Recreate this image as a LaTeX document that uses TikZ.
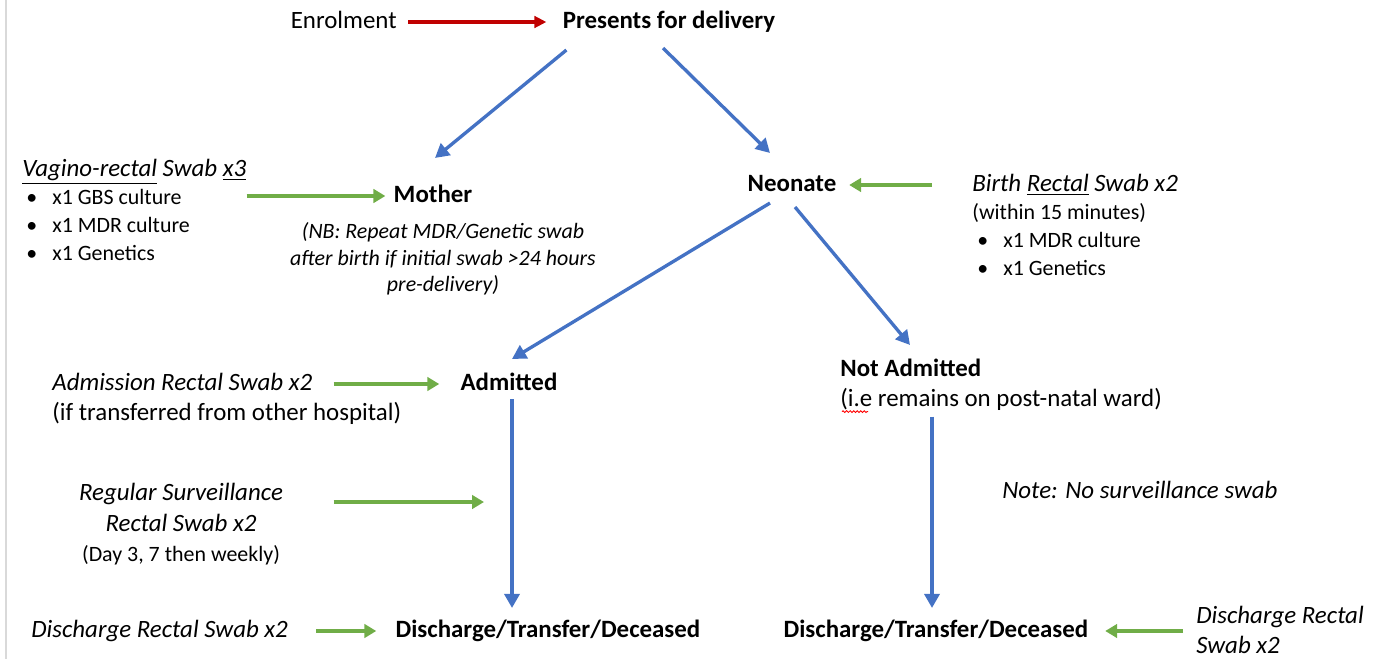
\documentclass[tikz,border=0pt]{standalone}
\usepackage{fontspec}
\setmainfont{Carlito}
\usepackage{tikz}
\usetikzlibrary{arrows.meta,positioning,calc,decorations.pathmorphing}
\usepackage{xcolor}
\definecolor{flowblue}{RGB}{68,114,196}
\definecolor{swabgreen}{RGB}{112,173,71}
\definecolor{enrolred}{RGB}{192,0,0}

\begin{document}
\begin{tikzpicture}[x=0.2mm,y=-0.2mm]
    \tikzstyle{stage} = [font=\fontsize{14.17pt}{17pt}\selectfont\bfseries,inner sep=0pt,text height=10.2pt,text depth=3.1pt]
    \tikzstyle{plain} = [font=\fontsize{14.17pt}{17pt}\selectfont,inner sep=0pt,text height=10.2pt,text depth=3.1pt]
    \tikzstyle{swab} = [font=\fontsize{14.17pt}{17pt}\selectfont\itshape,inner sep=0pt,text height=10.2pt,text depth=3.1pt]
    \tikzstyle{small} = [font=\fontsize{12.47pt}{15pt}\selectfont,inner sep=0pt,text height=9pt,text depth=2.75pt]
    \tikzstyle{smallit} = [small,font=\fontsize{12.47pt}{15pt}\selectfont\itshape]
    \tikzstyle{flow} = [draw=flowblue,line width=1.9pt,-{Triangle[length=2.8mm,width=3mm]}]
    \tikzstyle{feed} = [draw=swabgreen,line width=2.4pt,-{Triangle[length=2.4mm,width=2.7mm]}]
    \tikzstyle{enrolarrow} = [draw=enrolred,line width=1.8pt,-{Triangle[length=2.4mm,width=2.3mm]}]
    \newcommand{\bul}{\makebox[5.2mm][l]{\textbullet}}
    \useasboundingbox (0,0) rectangle (1384,659);
    \draw[black!15,line width=0.6pt] (6,0) -- (6,659);

    % top row
    \node[stage] (presents) at (669,22) {Presents for delivery};
    \node[plain,anchor=east] (enrolment) at (397,22) {Enrolment};

    % mother side
    \node[stage] (mother) at (433,196) {Mother};
    \node[swab,anchor=west] (vagswab) at (22,170) {\underline{Vagino-rectal} Swab \underline{x3}};
    \node[small] (gbs) [below=1.3mm of vagswab.south west,anchor=north west,xshift=0.8mm] {\bul x1 GBS culture};
    \node[small] (mdr) [below=1.3mm of gbs.south west,anchor=north west] {\bul x1 MDR culture};
    \node[small] (gen) [below=1.3mm of mdr.south west,anchor=north west] {\bul x1 Genetics};
    \node[smallit] (nb1) at (443,233) {(NB: Repeat MDR/Genetic swab};
    \node[smallit] (nb2) [below=1.05mm of nb1] {after birth if initial swab >24 hours};
    \node[smallit] (nb3) [below=1.05mm of nb2] {pre-delivery)};

    % neonate side
    \node[stage] (neonate) at (792,185) {Neonate};
    \node[swab,anchor=west] (birth) at (972,185) {Birth \underline{Rectal} Swab x2};
    \node[small] (within) [below=1.3mm of birth.south west,anchor=north west] {(within 15 minutes)};
    \node[small] (bmdr) [below=1.3mm of within.south west,anchor=north west,xshift=1mm] {\bul x1 MDR culture};
    \node[small] (bgen) [below=1.3mm of bmdr.south west,anchor=north west] {\bul x1 Genetics};

    % admitted branch
    \node[stage] (admitted) at (509,384) {Admitted};
    \node[swab,anchor=west] (admission) at (52,384) {Admission Rectal Swab x2};
    \node[plain] (iftrans) [below=1.3mm of admission.south west,anchor=north west] {(if transferred from other hospital)};
    \node[swab] (regsurv) at (181,494) {Regular Surveillance};
    \node[swab] (regswab) [below=1.5mm of regsurv] {Rectal Swab x2};
    \node[small] (regdays) [below=1.5mm of regswab] {(Day 3, 7 then weekly)};
    \coordinate (survtip) at (484,502);

    % not admitted branch
    \node[stage,anchor=west] (notadm) at (840,370) {Not Admitted};
    \node[plain] (nadesc) [below=1.3mm of notadm.south west,anchor=north west] {(i.e remains on post-natal ward)};
    \node[swab,anchor=west] (nosurv) at (1002,492) {Note: No surveillance swab};

    % bottom row
    \node[stage] (dischL) at (548,631) {Discharge/Transfer/Deceased};
    \node[stage] (dischR) at (936,631) {Discharge/Transfer/Deceased};
    \node[swab,anchor=west] (dswabL) at (31,631) {Discharge Rectal Swab x2};
    \node[swab,anchor=west] (dswabR) at (1196,617) {Discharge Rectal};
    \node[swab] (dswabR2) [below=1.3mm of dswabR.south west,anchor=north west] {Swab x2};

    % connectors
    \draw[enrolarrow,shorten <=2.2mm,shorten >=3.2mm] (enrolment.east) -- (presents.west);
    \draw[flow] ($(presents.south west)+(4,16)$) -- ($(mother.north)+(2,-26)$);
    \draw[flow] ($(presents.south)+(-6,14)$) -- ($(neonate.north)+(-22,-20)$);
    \draw[flow] ($(neonate.south)+(-22,6)$) -- ($(admitted.north)+(3,-13)$);
    \draw[flow] ($(neonate.south)+(3,10)$) -- ($(notadm.north west)+(70,-13)$);
    \draw[flow,shorten <=0.6mm,shorten >=2.2mm] ([xshift=0.6mm]admitted.south) -- ([xshift=0.6mm]admitted.south |- dischL.north);
    \draw[flow,shorten <=0.8mm,shorten >=2.2mm] ([xshift=-0.8mm]dischR.north |- nadesc.south) -- ([xshift=-0.8mm]dischR.north);

    \draw[feed,shorten >=1.6mm] (mother.west -| vagswab.east) -- (mother.west);
    \draw[feed,shorten <=8mm,shorten >=2.5mm] (birth.west) -- (neonate.east);
    \draw[feed,shorten <=4.2mm,shorten >=4.2mm] (admission.east) -- (admitted.west);
    \draw[feed,shorten <=4.2mm] (survtip -| admission.east) -- (survtip);
    \draw[feed,shorten <=5.6mm,shorten >=3.8mm] (dswabL.east) -- (dischL.west);
    \draw[feed,shorten <=2.6mm,shorten >=3.3mm] (dischR.east -| dswabR.west) -- (dischR.east);

    % spell-check mark
    \draw[red,line width=0.5pt,decorate,decoration={snake,amplitude=0.5pt,segment length=2pt}] ($(nadesc.south west)+(2,-1)$) -- ++(26,0);
\end{tikzpicture}
\end{document}
